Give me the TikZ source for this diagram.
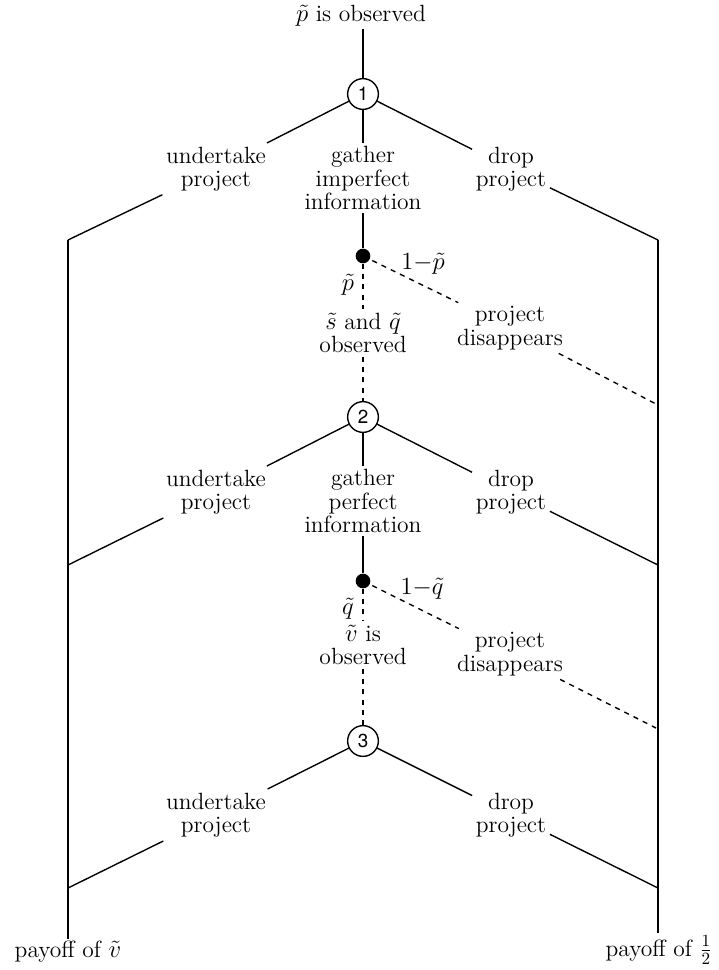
\documentclass[tikz,border=0pt]{standalone}
\usepackage{fontspec}
\newfontfamily\numfont{TeX Gyre Heros}
\tikzset{
  dec/.style={draw,circle,thick,minimum size=0.63cm,inner sep=0pt,font=\numfont\fontsize{11}{12}\selectfont},
  chance/.style={fill,circle,minimum size=0.3cm,inner sep=0pt},
  txt/.style={align=center,inner sep=2pt,font=\fontsize{13.7}{13.6}\selectfont},
  lbl/.style={inner sep=1pt,font=\fontsize{13.7}{13.6}\selectfont}
}
\begin{document}
\begin{tikzpicture}[x=0.205mm,y=-0.205mm]
        \useasboundingbox (0,0) rectangle (719,970);
        % 第一阶段
        \node[lbl] (top) at (361,16) {$\tilde p$ is observed};
        \node[dec] (c1) at (363,94) {1};
        \node[txt] (u1) at (216,169) {undertake\\project};
        \node[txt] (g1) at (363,178) {gather\\imperfect\\information};
        \node[txt] (d1) at (511,169) {drop\\project};
        \node[chance] (h1) at (363,256) {};
        \node[txt] (o1) at (363,333) {$\tilde s$ and $\tilde q$\\observed};
        \node[txt] (x1) at (510,328) {project\\disappears};
        \node[lbl] (pl1) at (348,285) {$\tilde p$};
        \node[lbl] (ql1) at (423,264) {$1{-}\tilde p$};
        \coordinate (jL1) at (68,240);
        \coordinate (jR1) at (658,240);
        \coordinate (jR2) at (656,404);
        % 第二阶段
        \node[dec] (c2) at (363,417) {2};
        \node[txt] (u2) at (216,492) {undertake\\project};
        \node[txt] (g2) at (363,501) {gather\\perfect\\information};
        \node[txt] (d2) at (511,492) {drop\\project};
        \node[chance] (h2) at (363,581) {};
        \node[txt] (o2) at (363,645) {$\tilde v$ is\\observed};
        \node[txt] (x2) at (510,654) {project\\disappears};
        \node[lbl] (pl2) at (348,609) {$\tilde q$};
        \node[lbl] (ql2) at (422,589) {$1{-}\tilde q$};
        \coordinate (jL2) at (68,565);
        \coordinate (jR3) at (658,565);
        \coordinate (jR4) at (656,728);
        % 第三阶段
        \node[dec] (c3) at (363,741) {3};
        \node[txt] (u3) at (216,815) {undertake\\project};
        \node[txt] (d3) at (511,815) {drop\\project};
        \coordinate (jL3) at (68,888);
        \coordinate (jR5) at (658,888);
        % 收益
        \node[lbl] (payL) at (68,952) {payoff of $\tilde v$};
        \node[lbl] (payR) at (659,950) {payoff of $\frac{1}{2}$};
        % 实线
        \draw[thick] (c1 |- top.south) -- (c1);
        \draw[thick] (c1) -- (u1) -- (jL1);
        \draw[thick] (c1) -- (d1) -- (jR1);
        \draw[thick] (c1) -- (g1) -- (h1);
        \draw[thick] (c2) -- (u2) -- (jL2);
        \draw[thick] (c2) -- (d2) -- (jR3);
        \draw[thick] (c2) -- (g2) -- (h2);
        \draw[thick] (c3) -- (u3) -- (jL3);
        \draw[thick] (c3) -- (d3) -- (jR5);
        \draw[thick] (jL1) -- (jL1 |- payL.north);
        \draw[thick] (jR1) -- (jR1 |- payR.north);
        % 虚线
        \draw[thick,dashed] (h1) -- (o1) -- (c2);
        \draw[thick,dashed] (h1.center) -- (x1) -- (jR2);
        \draw[thick,dashed] (h2) -- (o2) -- (c3);
        \draw[thick,dashed] (h2.center) -- (x2) -- (jR4);
      \end{tikzpicture}
\end{document}
